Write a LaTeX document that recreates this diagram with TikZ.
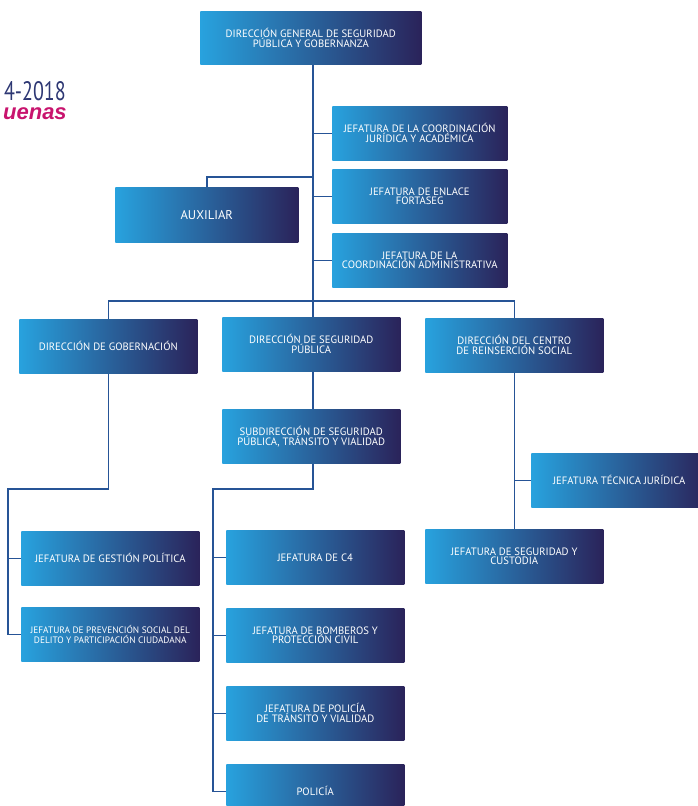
\documentclass[tikz,border=0pt]{standalone}
\usepackage{fontspec}
\setmainfont{PT Sans}
\newfontfamily\logofont[FakeStretch=0.75]{PT Sans}
\newfontfamily\saludofont{Liberation Sans}
\usetikzlibrary{positioning}
\definecolor{celeste}{RGB}{40,162,222}
\definecolor{marino}{RGB}{42,35,90}
\definecolor{linea}{RGB}{38,84,150}
\definecolor{logoazul}{RGB}{45,55,115}
\definecolor{logorosa}{RGB}{200,20,110}
\tikzset{
  cargo/.style={left color=celeste, right color=marino, text=white, align=center,
    inner sep=0pt, anchor=north west, minimum width=133.5pt, minimum height=40.5pt,
    font=\fontsize{8}{7.4}\selectfont},
  enlace/.style={draw=linea, line width=1.1pt},
}
\begin{document}
\begin{tikzpicture}[x=0.75pt,y=0.75pt,yscale=-1,xscale=1]
\useasboundingbox (0,0) rectangle (698,806);
%Logo fragments
\node [anchor=base east, inner sep=0pt, text=logoazul, font=\logofont\fontsize{20}{20}\selectfont] (anio) at (66,101) {4-2018};
\node [anchor=base east, inner sep=0pt, text=logorosa, font=\saludofont\bfseries\itshape\fontsize{16.5}{16.5}\selectfont] (saludo) at (67,120) {uenas};
%Level 1
\node [cargo, minimum width=165.75pt, minimum height=39.75pt] (DG) at (200,11) {DIRECCIÓN GENERAL DE SEGURIDAD\\PÚBLICA Y GOBERNANZA};
%Staff boxes
\node [cargo, minimum width=131.25pt] (Jur) at (332,106) {JEFATURA DE LA COORDINACIÓN\\JURÍDICA Y ACADÉMICA};
\node [cargo, minimum width=131.25pt] (Enl) at (332,169) {JEFATURA DE ENLACE\\FORTASEG};
\node [cargo, minimum width=131.25pt] (Adm) at (332,233) {JEFATURA DE LA\\COORDINACIÓN ADMINISTRATIVA};
\node [cargo, minimum width=137.25pt, minimum height=41.25pt, font=\fontsize{9.5}{10}\selectfont] (Aux) at (115,187) {AUXILIAR};
%Level 2
\node [cargo] (Gob) at (19,319) {DIRECCIÓN DE GOBERNACIÓN};
\node [cargo] (DSP) at (222,317) {DIRECCIÓN DE SEGURIDAD\\PÚBLICA};
\node [cargo] (DCRS) at (425,318) {DIRECCIÓN DEL CENTRO\\DE REINSERCIÓN SOCIAL};
%Level 3
\node [cargo] (Sub) at (222,409) {SUBDIRECCIÓN DE SEGURIDAD\\PÚBLICA, TRÁNSITO Y VIALIDAD};
\node [cargo, minimum width=132pt] (JTJ) at (531,453) {JEFATURA TÉCNICA JURÍDICA};
\node [cargo] (JSC) at (425,529) {JEFATURA DE SEGURIDAD Y\\CUSTODIA};
\node [cargo] (JGP) at (21,531) {JEFATURA DE GESTIÓN POLÍTICA};
\node [cargo, font=\fontsize{7}{7.6}\selectfont] (JPS) at (21,607) {JEFATURA DE PREVENCIÓN SOCIAL DEL\\DELITO Y PARTICIPACIÓN CIUDADANA};
\node [cargo] (C4) at (226,530) {JEFATURA DE C4};
\node [cargo] (Bom) at (226,608) {JEFATURA DE BOMBEROS Y\\PROTECCIÓN CIVIL};
\node [cargo] (Tra) at (226,686) {JEFATURA DE POLICÍA\\DE TRÁNSITO Y VIALIDAD};
\node [cargo] (Pol) at (226,764) {POLICÍA};
%Bends
\coordinate (bar) at (313,301);
\coordinate (auxk) at (313,177);
\coordinate (gobk) at (8,489);
\coordinate (subk) at (213,489);
%Connectors
\draw [enlace] (DG.south -| bar) -- (DSP.north -| bar);
\draw [enlace] (Gob.north) |- (bar) -| (DCRS.north);
\foreach \n in {Jur,Enl,Adm}
  \draw [enlace] (bar |- \n.west) -- (\n.west);
\draw [enlace] (auxk) -| (Aux.north);
\draw [enlace] (DSP.south -| bar) -- (Sub.north -| bar);
\draw [enlace] (Gob.south) |- (gobk) |- (JPS.west);
\draw [enlace] (gobk |- JGP.west) -- (JGP.west);
\draw [enlace] (Sub.south -| bar) |- (subk) |- (Pol.west);
\foreach \n in {C4,Bom,Tra}
  \draw [enlace] (subk |- \n.west) -- (\n.west);
\draw [enlace] (DCRS.south) -- (JSC.north);
\draw [enlace] (DCRS.south |- JTJ.west) -- (JTJ.west);
\end{tikzpicture}
\end{document}
